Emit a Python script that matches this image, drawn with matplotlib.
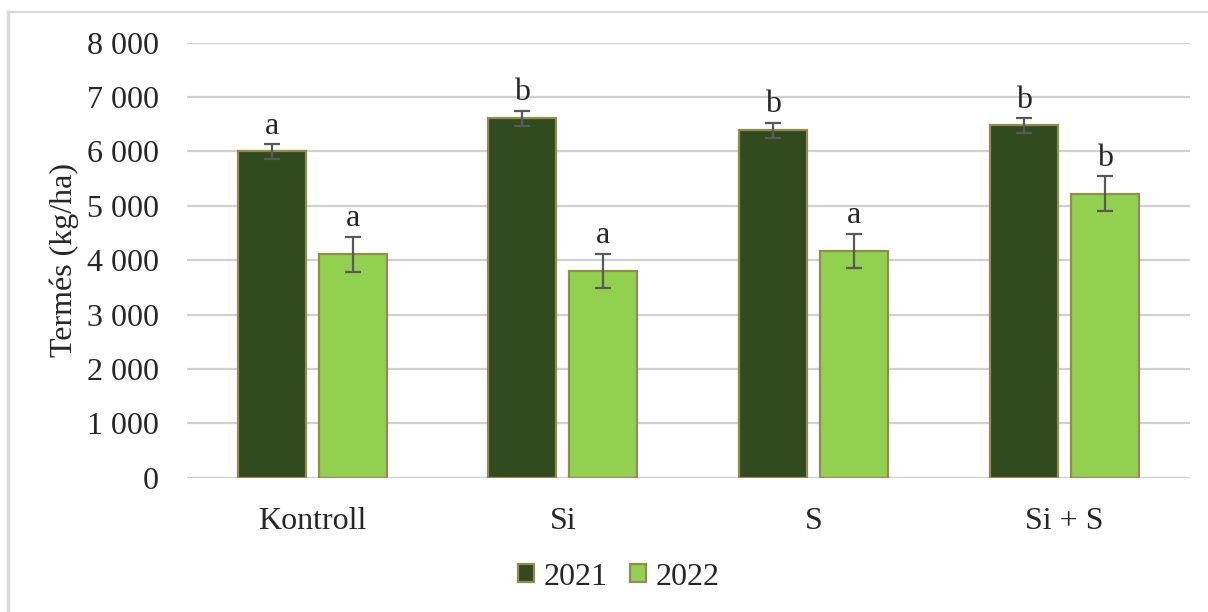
import matplotlib
matplotlib.use("Agg")
import matplotlib.pyplot as plt
from matplotlib.lines import Line2D
from matplotlib.patches import Patch
import numpy as np

categories = ["Kontroll", "Si", "S", "Si + S"]
years = ["2021", "2022"]
yield_2021 = [6000, 6610, 6390, 6480]
yield_2022 = [4110, 3800, 4170, 5220]
err_2021 = [135, 135, 135, 135]
err_2022 = [320, 315, 320, 320]
letters_2021 = ["a", "b", "b", "b"]
letters_2022 = ["a", "a", "a", "b"]
y_ticks = [0, 1000, 2000, 3000, 4000, 5000, 6000, 7000, 8000]

plt.rcParams["font.family"] = ["Liberation Serif", "DejaVu Serif"]

dark_green = "#314A1E"
light_green = "#92D050"
edge = "#948A54"
grid_col = "#D0D0D0"
text_col = "#262626"
fs = 23

fig = plt.figure(figsize=(12.08, 6.12), dpi=100)
ax = fig.add_axes([0.1545, 0.2194, 0.9851 - 0.1545, 0.9302 - 0.2194])

x = np.arange(len(categories))
w = 0.271
off = 0.1615

series = [
    (yield_2021, err_2021, letters_2021, dark_green, -off),
    (yield_2022, err_2022, letters_2022, light_green, off),
]
for vals, errs, letters, col, dx in series:
    ax.bar(x + dx, vals, width=w, color=col, edgecolor=edge, linewidth=1.6, zorder=3)
    ax.errorbar(x + dx, vals, yerr=errs, fmt="none", ecolor="#595959",
                elinewidth=1.6, capsize=6, capthick=1.6, zorder=4)
    for xi, v, e, lt in zip(x + dx, vals, errs, letters):
        ax.annotate(lt, (xi, v + e), xytext=(0, 2.5), textcoords="offset points",
                    ha="center", va="bottom", fontsize=fs, color=text_col)

ax.set_xlim(-0.5, len(categories) - 0.5)
ax.set_ylim(0, 8000)
ax.set_yticks(y_ticks)
ax.set_yticklabels([f"{v:,}".replace(",", " ") for v in y_ticks])
ax.set_xticks(x)
ax.set_xticklabels(categories)
ax.tick_params(axis="y", length=0, pad=20, labelsize=fs, labelcolor=text_col)
ax.tick_params(axis="x", length=0, pad=21, labelsize=fs, labelcolor=text_col)
ax.yaxis.grid(True, color=grid_col, linewidth=1.6, zorder=0)
ax.set_axisbelow(True)
for s in ax.spines.values():
    s.set_visible(False)
ax.axhline(0, color=grid_col, linewidth=1.6, zorder=1)

fig.text(0.053, (0.2194 + 0.9302) / 2, "Termés (kg/ha)", rotation=90,
         ha="center", va="center", fontsize=fs, color=text_col)

handles = [Patch(facecolor=dark_green, edgecolor=edge, linewidth=1.6),
           Patch(facecolor=light_green, edgecolor=edge, linewidth=1.6)]
fig.legend(handles, years, loc="center", bbox_to_anchor=(0.5124, 0.057),
           ncol=2, frameon=False, fontsize=fs, handlelength=0.5,
           handleheight=0.5, handletextpad=0.3, columnspacing=0.7,
           labelcolor=text_col)

# outer chart border (top and left edges)
fig.add_artist(Line2D([8 / 1208, 1.0], [1 - 12 / 612, 1 - 12 / 612],
                      transform=fig.transFigure, color="#D9D9D9", linewidth=1.5))
fig.add_artist(Line2D([8 / 1208, 8 / 1208], [0, 1 - 12 / 612],
                      transform=fig.transFigure, color="#D9D9D9", linewidth=2.5))

fig.savefig("out.png", dpi=100, facecolor="white")
